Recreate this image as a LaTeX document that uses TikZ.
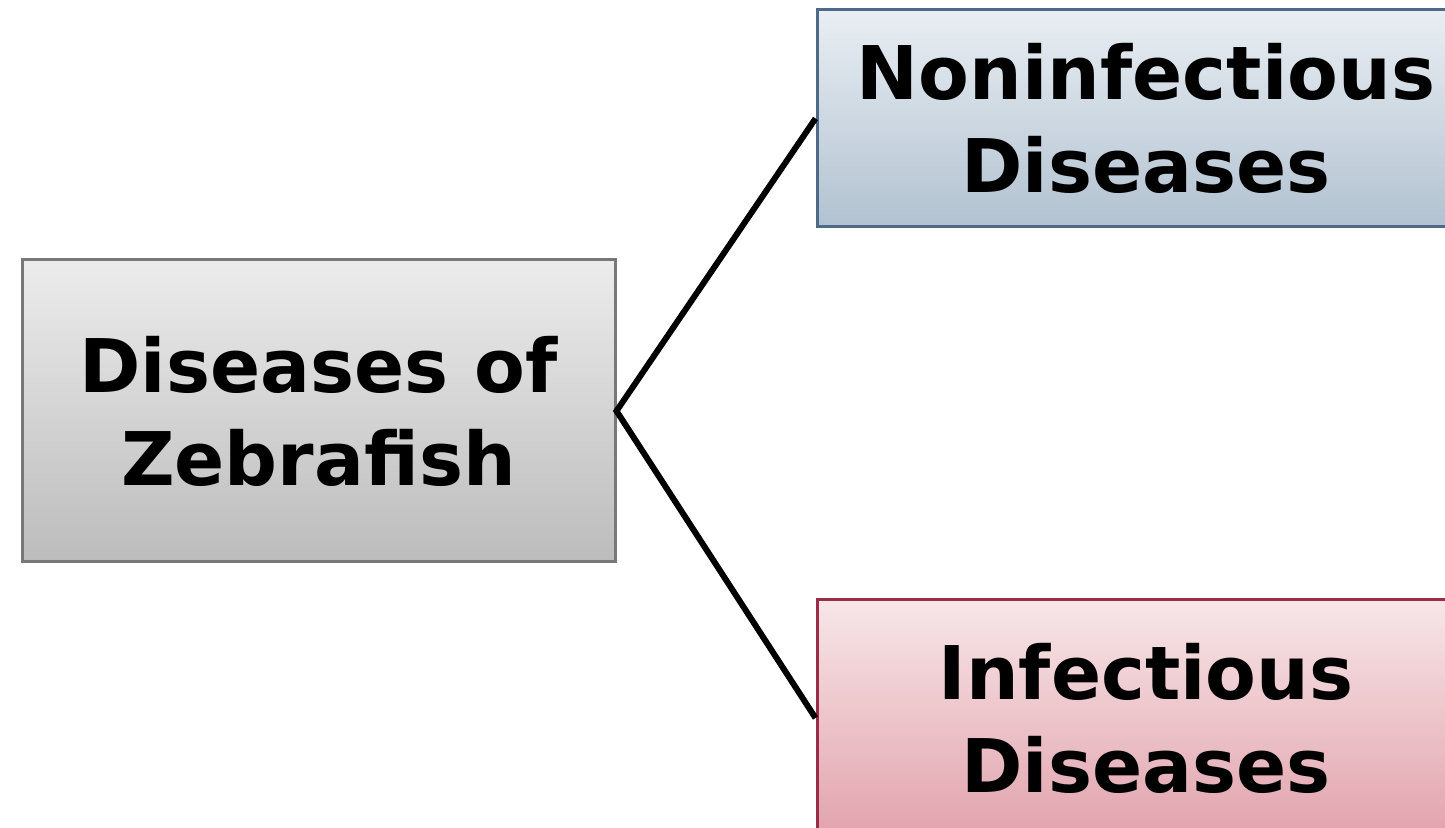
\documentclass[tikz,border=0pt]{standalone}
\usepackage{fontspec}
\setmainfont{DejaVu Sans}
\usepackage{tikz}
\definecolor{greytop}{RGB}{236,236,236}
\definecolor{greybot}{RGB}{188,188,188}
\definecolor{greyline}{RGB}{120,120,120}
\definecolor{bluetop}{RGB}{233,238,243}
\definecolor{bluebot}{RGB}{178,194,209}
\definecolor{blueline}{RGB}{79,106,134}
\definecolor{pinktop}{RGB}{247,230,232}
\definecolor{pinkbot}{RGB}{226,163,173}
\definecolor{pinkline}{RGB}{155,45,72}

\begin{document}
\begin{tikzpicture}[x=1pt,y=1pt,
    box/.style={rectangle, line width=3pt, align=center, inner sep=0pt,
        font=\fontsize{74}{93}\selectfont\bfseries},
    link/.style={line width=6pt, black, line join=miter}]
    \useasboundingbox (0,0) rectangle (1445,827);
    \clip (0,0) rectangle (1445,827);

    \node[box, draw=greyline, top color=greytop, bottom color=greybot,
        minimum width=593pt, minimum height=302pt] (fish) at (318.5,416) {Diseases of\\Zebrafish};
    \node[box, draw=blueline, top color=bluetop, bottom color=bluebot,
        minimum width=658pt, minimum height=217pt] (nonin) at (1146,708.5) {Noninfectious\\Diseases};
    \node[box, draw=pinkline, top color=pinktop, bottom color=pinkbot,
        minimum width=658pt, minimum height=236pt] (infec) at (1146,109) {Infectious\\Diseases};

    \draw[link] (nonin.west) -- (fish.east) -- (infec.west);
\end{tikzpicture}
\end{document}
